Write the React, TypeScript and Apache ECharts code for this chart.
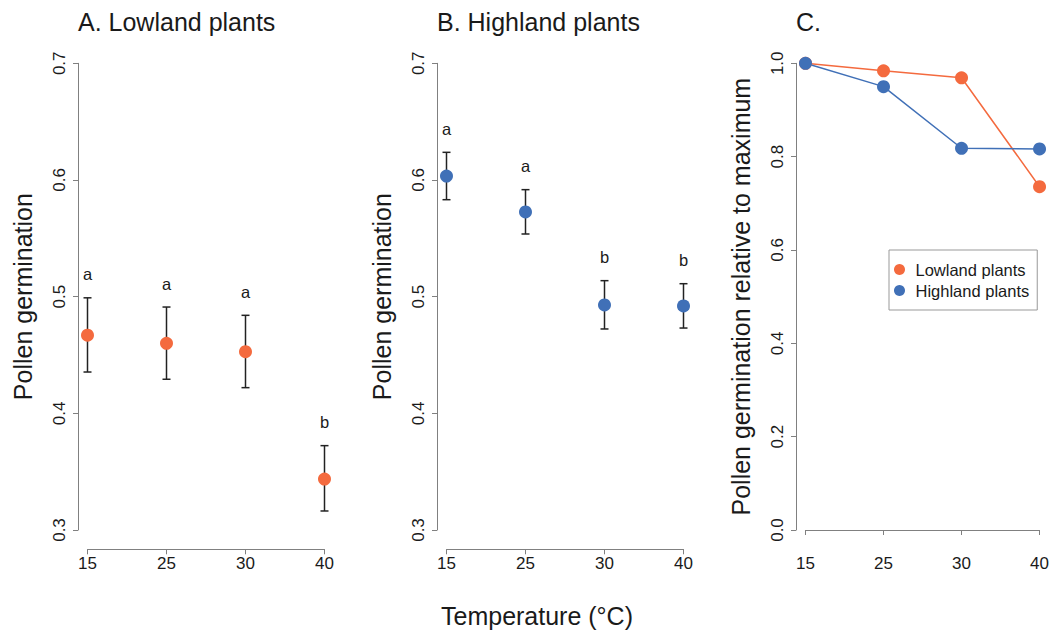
import React, { useEffect, useRef } from "react";
import * as echarts from "echarts";

const temps = ["15", "25", "30", "40"];

const lowMean = [0.467, 0.46, 0.4528, 0.3437];
const lowLower = [0.4354, 0.4292, 0.422, 0.3163];
const lowUpper = [0.499, 0.4911, 0.484, 0.3723];
const lowLetters = ["a", "a", "a", "b"];

const highMean = [0.6034, 0.5726, 0.4929, 0.492];
const highLower = [0.5831, 0.5537, 0.4723, 0.4731];
const highUpper = [0.6237, 0.5917, 0.5137, 0.5111];
const highLetters = ["a", "a", "b", "b"];

const lowRel = [1.0, 0.984, 0.969, 0.7356];
const highRel = [1.0, 0.95, 0.8179, 0.8164];

const titles = ["A. Lowland plants", "B. Highland plants", "C."];
const ORANGE = "#F46A3E";
const BLUE = "#4070B7";
const AXIS = "#808080";
const INK = "#1a1a1a";
const FONT = "Liberation Sans, Arial, Helvetica, sans-serif";

const gridLefts = [87.5, 446.5, 805.5];
const GRID_W = 237;
const GRID_TOP = 63.3;
const GRID_H = 466.7;

function App() {
  const ref = useRef<HTMLDivElement>(null);
  useEffect(() => {
    if (!ref.current) return;
    const chart = echarts.init(ref.current, null, { renderer: "svg" });

    const grids = gridLefts.map((l) => ({ left: l, top: GRID_TOP, width: GRID_W, height: GRID_H, containLabel: false }));

    const xAxes = gridLefts.map((_, i) => ({
      type: "category",
      gridIndex: i,
      data: temps,
      boundaryGap: false,
      offset: 19.3,
      axisLine: { show: true, lineStyle: { color: AXIS, width: 1 } },
      axisTick: { show: true, length: 5, lineStyle: { color: AXIS } },
      axisLabel: { color: INK, fontSize: 17, fontFamily: FONT, margin: 6 },
      splitLine: { show: false },
    }));

    const yCommon = (i: number, min: number, max: number, interval: number, name: string) => ({
      type: "value",
      gridIndex: i,
      min,
      max,
      interval,
      offset: 9.5,
      name,
      nameLocation: "middle",
      nameRotate: 90,
      nameGap: 43,
      nameTextStyle: { fontSize: 25, color: INK, fontFamily: FONT },
      axisLine: { show: true, lineStyle: { color: AXIS, width: 1 } },
      axisTick: { show: true, length: 5, lineStyle: { color: AXIS } },
      axisLabel: {
        color: INK,
        fontSize: 17,
        fontFamily: FONT,
        rotate: 90,
        margin: 10,
        formatter: (v: number) => v.toFixed(1),
      },
      splitLine: { show: false },
    });

    const yAxes = [
      yCommon(0, 0.3, 0.7, 0.1, "Pollen germination"),
      yCommon(1, 0.3, 0.7, 0.1, "Pollen germination"),
      yCommon(2, 0, 1, 0.2, "Pollen germination relative to maximum"),
    ];

    const errSeries = (idx: number, lower: number[], upper: number[], letters: string[]) => ({
      type: "custom",
      xAxisIndex: idx,
      yAxisIndex: idx,
      clip: false,
      z: 2,
      data: temps.map((_, i) => [i, lower[i], upper[i]]),
      renderItem: (params: any, api: any) => {
        const x = api.value(0);
        const pLo = api.coord([x, api.value(1)]);
        const pHi = api.coord([x, api.value(2)]);
        const w = 4;
        const style = { stroke: "#222", lineWidth: 1.5 };
        return {
          type: "group",
          children: [
            { type: "line", shape: { x1: pLo[0], y1: pLo[1], x2: pHi[0], y2: pHi[1] }, style },
            { type: "line", shape: { x1: pLo[0] - w, y1: pLo[1], x2: pLo[0] + w, y2: pLo[1] }, style },
            { type: "line", shape: { x1: pHi[0] - w, y1: pHi[1], x2: pHi[0] + w, y2: pHi[1] }, style },
            {
              type: "text",
              style: {
                text: letters[params.dataIndex],
                x: pHi[0],
                y: pHi[1] - 15,
                align: "center",
                verticalAlign: "bottom",
                fontSize: 16.5,
                fontFamily: FONT,
                fill: INK,
              },
            },
          ],
        };
      },
    });

    const pointSeries = (idx: number, name: string, vals: number[], color: string) => ({
      type: "scatter",
      name,
      xAxisIndex: idx,
      yAxisIndex: idx,
      clip: false,
      z: 3,
      symbol: "circle",
      symbolSize: 13,
      itemStyle: { color, opacity: 1 },
      data: vals,
    });

    const option: any = {
      animation: false,
      backgroundColor: "#fff",
      title: titles.map((t, i) => ({
        text: t,
        left: gridLefts[i] - 9.5,
        top: 9,
        padding: 0,
        textStyle: { fontSize: 25, fontWeight: "normal", color: INK, fontFamily: FONT },
      })),
      grid: grids,
      xAxis: xAxes,
      yAxis: yAxes,
      legend: {
        show: true,
        data: ["Lowland plants", "Highland plants"],
        orient: "vertical",
        left: 889,
        top: 250,
        icon: "circle",
        itemWidth: 22,
        itemHeight: 11,
        itemGap: 4,
        padding: [11, 8, 11, 5],
        borderColor: "#999",
        borderWidth: 1,
        borderRadius: 0,
        selectedMode: false,
        textStyle: { fontSize: 16.5, color: INK, fontFamily: FONT },
      },
      series: [
        errSeries(0, lowLower, lowUpper, lowLetters),
        pointSeries(0, "Lowland (A)", lowMean, ORANGE),
        errSeries(1, highLower, highUpper, highLetters),
        pointSeries(1, "Highland (B)", highMean, BLUE),
        {
          type: "line",
          name: "Lowland plants",
          xAxisIndex: 2,
          yAxisIndex: 2,
          clip: false,
          symbol: "circle",
          symbolSize: 13,
          showSymbol: true,
          itemStyle: { color: ORANGE },
          lineStyle: { color: ORANGE, width: 1.5 },
          data: lowRel,
        },
        {
          type: "line",
          name: "Highland plants",
          xAxisIndex: 2,
          yAxisIndex: 2,
          clip: false,
          symbol: "circle",
          symbolSize: 13,
          showSymbol: true,
          itemStyle: { color: BLUE },
          lineStyle: { color: BLUE, width: 1.5 },
          data: highRel,
        },
      ],
      graphic: [
        {
          type: "text",
          x: 537,
          y: 616,
          style: {
            text: "Temperature (°C)",
            align: "center",
            verticalAlign: "middle",
            fontSize: 25,
            fontFamily: FONT,
            fill: INK,
          },
        },
      ],
    };

    chart.setOption(option);
    return () => chart.dispose();
  }, []);

  return (
    <div
      ref={ref}
      style={{ position: "fixed", left: 0, top: 0, width: 1052, height: 634, background: "#fff" }}
    />
  );
}

export default App;
